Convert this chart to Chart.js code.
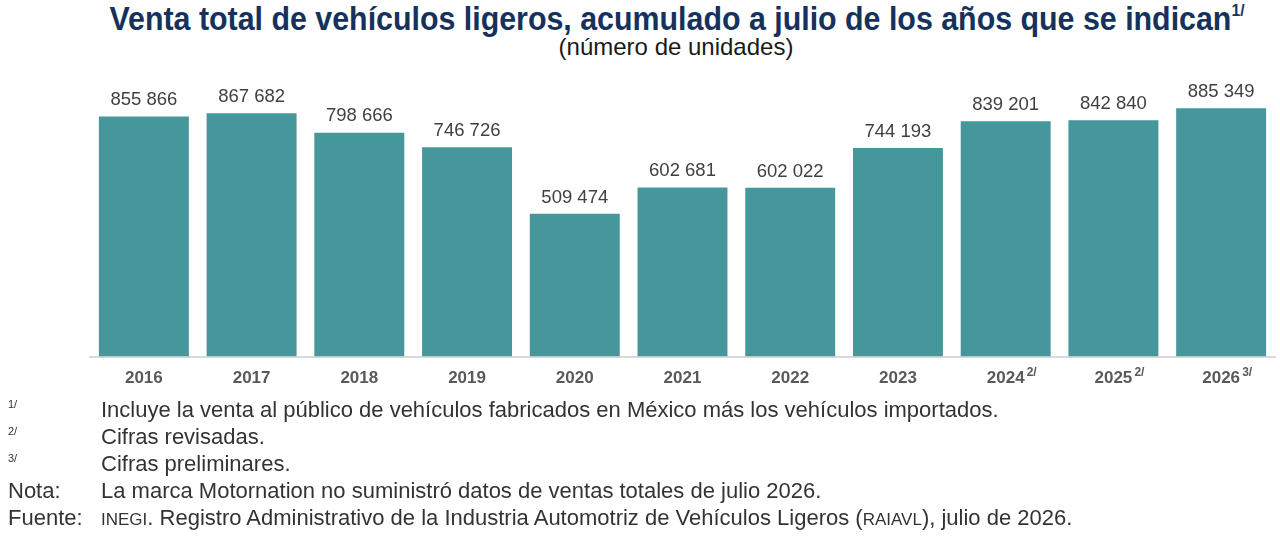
<!DOCTYPE html>
<html>
<head>
<meta charset="utf-8">
<script src="https://cdn.jsdelivr.net/npm/chart.js@4"></script>
<style>
  body { margin: 0; width: 1280px; height: 538px; background: #fff; position: relative; overflow: hidden; font-family: "Liberation Sans", Arial, sans-serif; }
  #title { position: absolute; left: 37px; width: 1280px; top: -6px; text-align: center; font-weight: bold; font-size: 33px; color: #16325c; line-height: 38px; transform: scaleX(0.92); transform-origin: 640px 0; }
  #title sup { font-size: 17px; position: relative; top: -2px; }
  #subtitle { position: absolute; left: 36px; width: 1280px; top: 33px; text-align: center; font-size: 24px; color: #1a1a1a; line-height: 27px; }
  #wrap { position: absolute; left: 0; top: 62px; width: 1280px; height: 345px; }
  .note { position: absolute; left: 0; width: 1280px; font-size: 22px; color: #333; line-height: 22px; }
  .note .k { position: absolute; left: 8px; }
  .note .k.s { font-size: 11px; top: -6px; }
  .note .t { position: absolute; left: 101px; white-space: nowrap; }
  .sc { font-size: 17px; }
</style>
</head>
<body>
<div id="title">Venta total de vehículos ligeros, acumulado a julio de los años que se indican<sup>1/</sup></div>
<div id="subtitle">(número de unidades)</div>
<div id="wrap"><canvas id="myChart"></canvas></div>

<div class="note" style="top:399px"><span class="k s">1/</span><span class="t">Incluye la venta al público de vehículos fabricados en México más los vehículos importados.</span></div>
<div class="note" style="top:426px"><span class="k s">2/</span><span class="t">Cifras revisadas.</span></div>
<div class="note" style="top:453px"><span class="k s">3/</span><span class="t">Cifras preliminares.</span></div>
<div class="note" style="top:480px"><span class="k">Nota:</span><span class="t">La marca Motornation no suministró datos de ventas totales de julio 2026.</span></div>
<div class="note" style="top:507px"><span class="k">Fuente:</span><span class="t"><span class="sc">INEGI</span>. Registro Administrativo de la Industria Automotriz de Vehículos Ligeros (<span class="sc">RAIAVL</span>), julio de 2026.</span></div>

<script>
const years = ["2016","2017","2018","2019","2020","2021","2022","2023","2024","2025","2026"]
const yearMarks = ["","","","","","","","","2/","2/","3/"]
const sales = [855866,867682,798666,746726,509474,602681,602022,744193,839201,842840,885349]

function fmt(n){
    return String(n).replace(/\B(?=(\d{3})+(?!\d))/g, " ")
}

// numbers above the bars and the little footnote marks next to the years
const extras = {
    id: "extras",
    afterDatasetsDraw(chart){
        let ctx = chart.ctx
        let meta = chart.getDatasetMeta(0)
        ctx.save()
        ctx.fillStyle = "#404040"
        ctx.font = "18.5px 'Liberation Sans', Arial, sans-serif"
        ctx.textAlign = "center"
        ctx.textBaseline = "bottom"
        meta.data.forEach((bar, i) => {
            ctx.fillText(fmt(sales[i]), bar.x, bar.y - 7)
        })
        let xs = chart.scales.x
        ctx.font = "bold 12px 'Liberation Sans', Arial, sans-serif"
        ctx.fillStyle = "#595959"
        ctx.textAlign = "left"
        ctx.textBaseline = "alphabetic"
        yearMarks.forEach((m, i) => {
            if(!m) return
            let px = xs.getPixelForTick(i)
            ctx.fillText(m, px + 21, xs.top + 19)
        })
        ctx.restore()
    }
}

new Chart("myChart", {
    type: "bar",
    data: {
        labels: years,
        datasets: [{
            data: sales,
            backgroundColor: "#46979b",
            categoryPercentage: 1,
            barPercentage: 0.835
        }]
    },
    options: {
        responsive: true,
        maintainAspectRatio: false,
        animation: false,
        layout: { padding: { left: 90, right: 5, top: 8, bottom: 6 } },
        plugins: {
            legend: { display: false },
            tooltip: { enabled: false }
        },
        scales: {
            y: { display: false, min: 0, max: 1022000 },
            x: {
                grid: { display: false, drawTicks: false },
                border: { display: true, color: "#d9d9d9", width: 2 },
                ticks: {
                    color: "#595959",
                    padding: 12,
                    font: { family: "'Liberation Sans', Arial, sans-serif", size: 17, weight: "bold" }
                }
            }
        }
    },
    plugins: [extras]
})
</script>
</body>
</html>
